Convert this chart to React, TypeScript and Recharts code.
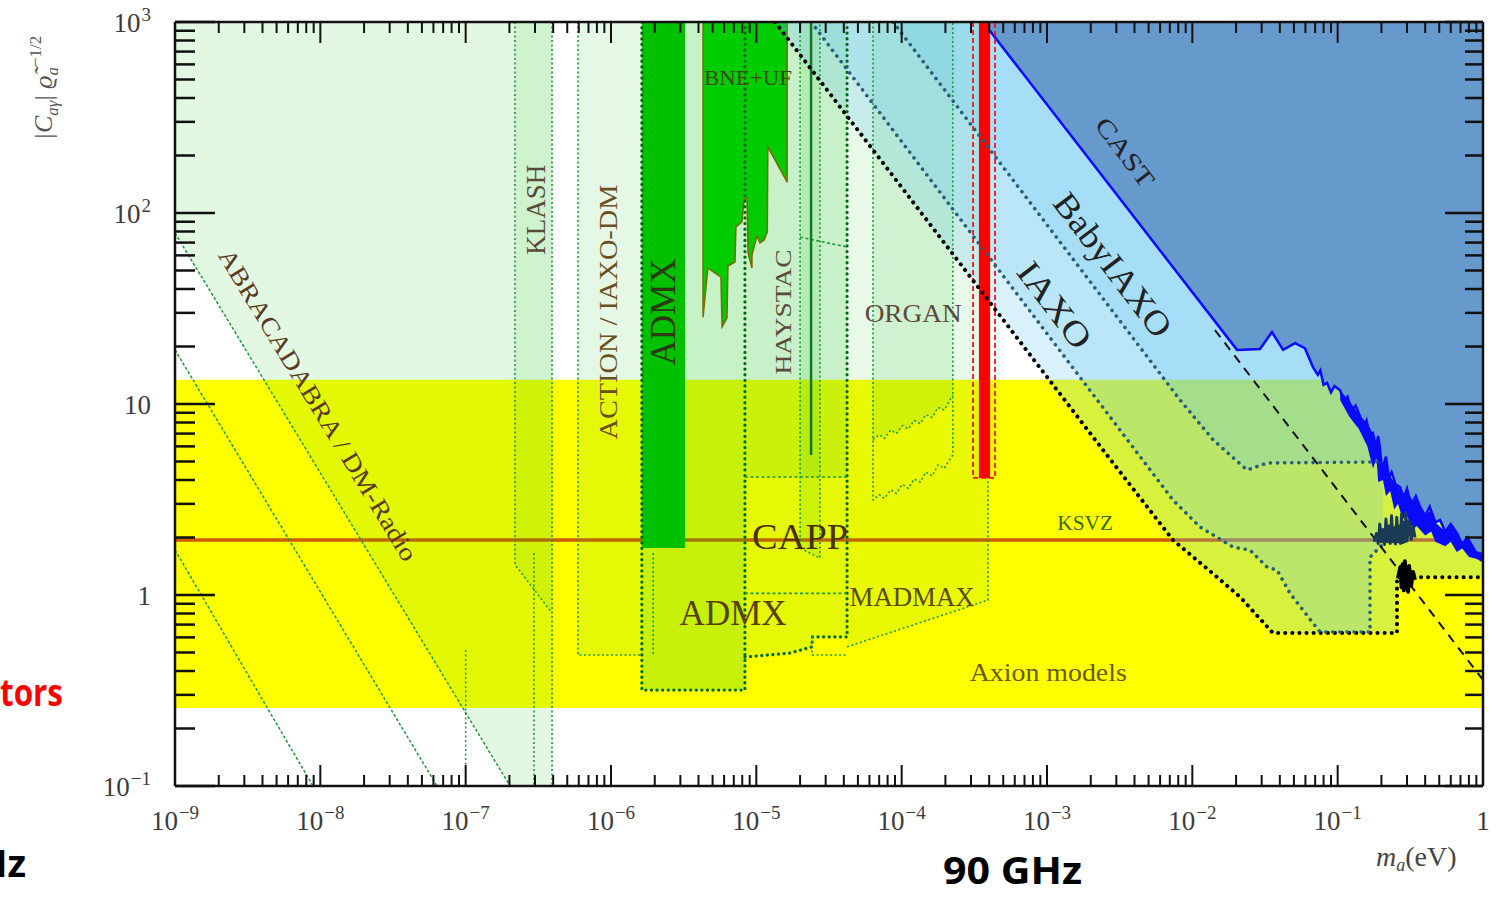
import React from "react";
import { Area, ComposedChart, Line, ReferenceDot, XAxis, YAxis } from "recharts";

type P = [number, number]; // [mass (eV), coupling]
type R = [number, number, number]; // [mass, low, high]

// axis ticks
const xDecades = [1e-9, 1e-8, 1e-7, 1e-6, 1e-5, 1e-4, 1e-3, 1e-2, 1e-1, 1];
const xDecadeLabels = ["10^−9", "10^−8", "10^−7", "10^−6", "10^−5", "10^−4", "10^−3", "10^−2", "10^−1", "1"];
const yDecades = [0.1, 1, 10, 100, 1000];
const yDecadeLabels = ["10^−1", "1", "10", "10^2", "10^3"];
const minorSteps = [2, 3, 4, 5, 6, 7, 8, 9];

// bands
const axionModels: R[] = [[1e-9, 0.256, 13.4], [1, 0.256, 13.4]];
const ksvz: R[] = [[1e-9, 1.9, 1.98], [1, 1.9, 1.98]];

// haloscope / radio regions
const abraRegion: P[] = [[1e-9, 78.5], [2.02e-7, 0.1], [3.93e-7, 0.1], [3.93e-7, 1000]];
const klashRegion: R[] = [[2.185e-7, 1.44, 1000], [3.93e-7, 0.805, 1000]];
const actionRegion: R[] = [[5.93e-7, 0.485, 1000], [1.63e-6, 0.485, 1000]];
const admxProjRegion: R[] = [[1.63e-6, 0.318, 1000], [8.35e-6, 0.318, 1000]];
const haystacLow: R[] = [[8.35e-6, 0.473, 1000], [1.71e-5, 0.497, 1000], [2.42e-5, 0.535, 1000], [2.42e-5, 0.603, 1000], [4.21e-5, 0.603, 1000]];
const haystacHigh: R[] = [[8.35e-6, 4.15, 1000], [4.21e-5, 4.15, 1000]];
const cappRegion: R[] = [[2.0e-5, 1.76, 1000], [2.74e-5, 1.56, 1000]];
const madmaxRegion: R[] = [[4.21e-5, 0.535, 1000], [3.93e-4, 0.94, 1000]];
const organUpper: P[] = [[6.35e-5, 6.5], [7.0e-5, 6.9], [7.6e-5, 6.6], [8.4e-5, 7.3], [9.2e-5, 7.0], [1.01e-4, 7.7], [1.11e-4, 7.4], [1.22e-4, 8.2], [1.34e-4, 7.9], [1.47e-4, 8.8], [1.62e-4, 8.5], [1.78e-4, 9.6], [1.96e-4, 9.3], [2.25e-4, 11.1]];
const organLower: P[] = [[6.35e-5, 3.14], [7.0e-5, 3.35], [7.6e-5, 3.2], [8.4e-5, 3.55], [9.2e-5, 3.4], [1.01e-4, 3.8], [1.11e-4, 3.62], [1.22e-4, 4.05], [1.34e-4, 3.9], [1.47e-4, 4.4], [1.62e-4, 4.2], [1.78e-4, 4.8], [1.96e-4, 4.6], [2.25e-4, 5.41]];
const admxSolid: R[] = [[1.63e-6, 1.76, 1000], [3.23e-6, 1.76, 1000]];
const bneUf: P[] = [[4.3e-6, 1000], [4.3e-6, 28.5], [4.64e-6, 51.5], [5.71e-6, 46.2], [5.81e-6, 25.3], [6.28e-6, 28.2], [6.38e-6, 52.8], [7.13e-6, 55.4], [7.24e-6, 84.5], [7.96e-6, 89.8], [8.22e-6, 117], [8.63e-6, 120], [8.77e-6, 61.8], [9.33e-6, 51.5], [9.33e-6, 60.3], [1.01e-5, 75.8], [1.06e-5, 69.7], [1.13e-5, 72.3], [1.19e-5, 79.6], [1.2e-5, 222], [1.63e-5, 145], [1.63e-5, 1000]];

// helioscopes
const iaxoBlack: P[] = [[1.344e-5, 1000], [2.43e-3, 5.74], [7.36e-3, 1.94], [1.48e-2, 1.24], [2.13e-2, 0.977], [3.59e-2, 0.632], [0.256, 0.632], [0.256, 1.24], [1, 1.24]];
const iaxoMid: P[] = [[2.38e-5, 1000], [7.36e-3, 3.14], [1.13e-2, 2.27], [1.91e-2, 1.78], [2.49e-2, 1.72], [3.27e-2, 1.4], [3.83e-2, 1.35], [4.7e-2, 1.02], [6.76e-2, 0.713], [7.57e-2, 0.64], [0.167, 0.64], [0.167, 1.58], [0.205, 1.85]];
const iaxoMidArea: P[] = [...iaxoMid, [0.215, 1000]];
const babyIaxo: P[] = [[8.72e-5, 1000], [8.22e-3, 10.5], [1.39e-2, 6.49], [2.38e-2, 4.51], [3.27e-2, 4.91], [0.187, 4.97]];
const babyIaxoArea: P[] = [...babyIaxo, [0.195, 1000]];
const cast: P[] = [[3.63e-4, 1000], [2.03e-2, 19.2], [2.92e-2, 19.4], [3.53e-2, 23.8], [4.21e-2, 19.2], [5.09e-2, 20.8], [5.95e-2, 19.6], [6.76e-2, 15.6], [7.3e-2, 14.2], [7.6e-2, 15.0], [8.0e-2, 12.6], [8.45e-2, 12.9], [9.0e-2, 11.5], [9.5e-2, 12.4], [0.104, 11.8], [0.11, 10.2], [0.117, 10.9], [0.125, 9.2], [0.133, 9.8], [0.143, 8.55], [0.15, 7.5], [0.158, 8.2], [0.166, 6.9], [0.175, 7.05], [0.183, 5.9], [0.19, 6.8], [0.195, 5.96], [0.2, 4.9], [0.205, 4.68], [0.215, 5.3], [0.225, 4.1], [0.235, 4.4], [0.25, 3.8], [0.269, 3.67], [0.285, 3.2], [0.3, 3.6], [0.32, 2.95], [0.345, 3.3], [0.369, 2.89], [0.4, 2.6], [0.43, 2.9], [0.47, 2.4], [0.506, 2.47], [0.55, 2.15], [0.6, 2.35], [0.662, 2.11], [0.72, 1.85], [0.78, 2.0], [0.853, 1.78], [0.92, 1.6], [1, 1.66]];
const castNoise: R[] = [[0.104, 10.5, 11.8], [0.12, 8.6, 10.4], [0.14, 7.4, 8.8], [0.16, 6.0, 7.9], [0.175, 4.6, 7.0], [0.185, 5.2, 6.2], [0.19, 3.9, 6.6], [0.205, 4.0, 4.7], [0.215, 3.3, 5.0], [0.23, 3.5, 4.2], [0.245, 2.8, 3.9], [0.26, 3.0, 3.7], [0.28, 2.5, 3.4], [0.3, 2.6, 3.5], [0.33, 2.2, 3.1], [0.35, 2.3, 3.2], [0.4, 2.05, 2.6], [0.44, 2.15, 2.8], [0.47, 1.9, 2.4], [0.55, 1.8, 2.15], [0.6, 1.9, 2.3], [0.66, 1.68, 2.1], [0.72, 1.75, 1.9], [0.8, 1.58, 1.95], [0.9, 1.55, 1.7], [1, 1.48, 1.66]];
const castExtrap: P[] = [[1.43e-2, 24.4], [1, 0.359]];
const navyNoise: P[] = [[0.178, 1.9], [0.185, 2.1], [0.19, 1.86], [0.195, 2.35], [0.2, 1.9], [0.205, 2.2], [0.21, 1.84], [0.215, 2.5], [0.22, 1.9], [0.225, 2.3], [0.23, 1.86], [0.235, 2.6], [0.24, 1.9], [0.245, 2.25], [0.25, 1.85], [0.255, 2.55], [0.26, 1.9], [0.265, 2.3], [0.27, 1.86], [0.275, 2.65], [0.28, 1.88], [0.285, 2.4], [0.29, 1.9], [0.295, 2.7], [0.3, 1.92], [0.31, 2.45], [0.32, 1.95], [0.33, 2.3], [0.34, 2.0]];
const blackStar: P[] = [[0.26, 1.22], [0.27, 1.4], [0.275, 1.1], [0.28, 1.45], [0.285, 1.06], [0.29, 1.5], [0.295, 1.08], [0.3, 1.38], [0.305, 1.04], [0.31, 1.42], [0.32, 1.12], [0.33, 1.32], [0.34, 1.2]];

// 90 GHz marker
const redBar: R[] = [[3.4e-4, 4.1, 1000], [4.06e-4, 4.1, 1000]];
const redOutline: P[] = [[3.1e-4, 1000], [3.1e-4, 4.1], [4.39e-4, 4.1], [4.39e-4, 1000]];

// outlines
const abra1: P[] = [[1e-9, 1.72], [8.9e-9, 0.1]];
const abra2: P[] = [[1e-9, 19.2], [6.35e-8, 0.1]];
const abra3: P[] = [[1e-9, 78.5], [2.02e-7, 0.1]];
const dmRadioVert: P[] = [[1e-7, 0.515], [1e-7, 0.1]];
const klashLeft: P[] = [[2.185e-7, 1000], [2.185e-7, 1.44], [3.93e-7, 0.805]];
const klashRight: P[] = [[3.93e-7, 1000], [3.93e-7, 0.1]];
const klashInner: P[] = [[2.95e-7, 1.66], [2.95e-7, 0.1]];
const actionEdge: P[] = [[5.93e-7, 1000], [5.93e-7, 0.485], [1.63e-6, 0.485]];
const actionInner: P[] = [[1.95e-6, 1.66], [1.95e-6, 0.485]];
const admxEdge: P[] = [[1.63e-6, 1000], [1.63e-6, 0.318], [8.35e-6, 0.318], [8.35e-6, 1000]];
const haystacEdge: P[] = [[8.35e-6, 0.473], [1.71e-5, 0.497], [2.42e-5, 0.535], [2.42e-5, 0.603], [4.21e-5, 0.603], [4.21e-5, 1000]];
const haystacBox: P[] = [[2.42e-5, 0.603], [2.42e-5, 0.485], [4.21e-5, 0.485]];
const haystacTop: P[] = [[8.35e-6, 4.15], [4.21e-5, 4.15]];
const haystacMid: P[] = [[8.35e-6, 1.02], [4.21e-5, 1.02]];
const haystacDiag: P[] = [[2.0e-5, 74.8], [4.21e-5, 66.4]];
const cappEdge: P[] = [[2.0e-5, 1000], [2.0e-5, 1.76], [2.74e-5, 1.56], [2.74e-5, 1000]];
const cappSolid: P[] = [[2.38e-5, 1000], [2.38e-5, 5.41]];
const organOuter: P[] = [[6.35e-5, 1000], ...organLower, [2.25e-4, 1000]];
const madmaxEdge: P[] = [[4.21e-5, 0.535], [3.93e-4, 0.94], [3.93e-4, 4.1]];

const pts = (arr: P[]) => arr.map(([m, c]) => ({ m, c }));
const band = (arr: R[]) => arr.map(([m, lo, hi]) => ({ m, c: [lo, hi] }));

const xTicks = [...xDecades, ...xDecades.slice(0, -1).flatMap((d) => minorSteps.map((s) => d * s))];
const yTicks = [...yDecades, ...yDecades.slice(0, -1).flatMap((d) => minorSteps.map((s) => d * s))];

const serif = "'Liberation Serif', 'DejaVu Serif', serif";
const sans = "'Open Sans', 'Noto Sans', sans-serif";
const INK = "#111";
const GREEN = "#28c828";
const BLUE = "#64c8f0";

function TickText({ x, y, label, anchor }: { x: number; y: number; label: string; anchor: string }) {
  const [base, exp] = label.split("^");
  return (
    <text x={x} y={y} textAnchor={anchor} fontSize={27} fill="#3c3c3c" fontFamily={serif}>
      {base}
      {exp && (
        <tspan dy={-11} dx={1} fontSize={19}>
          {exp}
        </tspan>
      )}
    </text>
  );
}

const XTickBottom = (props: any) => {
  const { x, y, payload } = props;
  const i = xDecades.indexOf(payload.value);
  return (
    <g>
      <line x1={x} x2={x} y1={y} y2={y - (i >= 0 ? 21 : 11)} stroke={INK} strokeWidth={2} />
      {i >= 0 && <TickText x={x} y={y + 44} label={xDecadeLabels[i]} anchor="middle" />}
    </g>
  );
};

const XTickTop = (props: any) => {
  const { x, y, payload } = props;
  const major = xDecades.includes(payload.value);
  return <line x1={x} x2={x} y1={y} y2={y + (major ? 21 : 11)} stroke={INK} strokeWidth={2} />;
};

const YTickLeft = (props: any) => {
  const { x, y, payload } = props;
  const i = yDecades.indexOf(payload.value);
  return (
    <g>
      <line x1={x} x2={x + (i >= 0 ? 40 : 20)} y1={y} y2={y} stroke={INK} strokeWidth={2.5} />
      {i >= 0 && <TickText x={x - 24} y={y + 10} label={yDecadeLabels[i]} anchor="end" />}
    </g>
  );
};

const YTickRight = (props: any) => {
  const { x, y, payload } = props;
  const major = yDecades.includes(payload.value);
  return <line x1={x} x2={x - (major ? 38 : 18)} y1={y} y2={y} stroke={INK} strokeWidth={2.5} />;
};

const fillArea = (key: string, data: any[], fill: string, opacity: number, extra: any = {}) => (
  <Area
    key={key}
    data={data}
    dataKey="c"
    type="linear"
    fill={fill}
    fillOpacity={opacity}
    stroke="none"
    baseValue={1000}
    dot={false}
    activeDot={false}
    isAnimationActive={false}
    {...extra}
  />
);

const edge = (key: string, data: P[], stroke: string, width: number, dash: string, round = false) => (
  <Line
    key={key}
    data={pts(data)}
    dataKey="c"
    type="linear"
    stroke={stroke}
    strokeWidth={width}
    strokeDasharray={dash}
    strokeLinecap={round ? "round" : "butt"}
    strokeLinejoin="round"
    dot={false}
    activeDot={false}
    isAnimationActive={false}
  />
);

const tag = (text: string, m: number, c: number, size: number, len: number, angle: number, color: string) => (
  <ReferenceDot
    key={text + m}
    x={m}
    y={c}
    r={0}
    ifOverflow="visible"
    shape={(p: any) => (
      <text
        x={p.cx}
        y={p.cy}
        transform={`rotate(${angle} ${p.cx} ${p.cy})`}
        textAnchor="middle"
        dominantBaseline="central"
        fontSize={size}
        fill={color}
        fontFamily={serif}
        textLength={len}
        lengthAdjust="spacingAndGlyphs"
      >
        {text}
      </text>
    )}
  />
);

const thinGreen = "#1f9a3a";
const darkGreen = "#006a10";
const dotBlue = "#2a5f7a";

export default function App() {
  return (
    <div style={{ position: "absolute", left: 0, top: 0, width: 1499, height: 897, background: "#fff", overflow: "hidden" }}>
      <ComposedChart width={1499} height={897} margin={{ top: 0, right: 0, bottom: 0, left: 0 }}>
        {fillArea("axion", band(axionModels), "#ffff00", 1)}
        {fillArea("ksvz", band(ksvz), "#d05a00", 1)}

        {fillArea("abra", pts(abraRegion), GREEN, 0.13)}
        {fillArea("klash", band(klashRegion), GREEN, 0.1)}
        {fillArea("action", band(actionRegion), GREEN, 0.12)}
        {fillArea("admxProj", band(admxProjRegion), GREEN, 0.26)}
        {fillArea("hayLow", band(haystacLow), GREEN, 0.12)}
        {fillArea("hayHigh", band(haystacHigh), GREEN, 0.15)}
        {fillArea("capp", band(cappRegion), GREEN, 0.12)}
        {fillArea("madmax", band(madmaxRegion), GREEN, 0.1)}
        {fillArea("organ", pts(organUpper), GREEN, 0.12)}

        {fillArea("admxSolid", band(admxSolid), "#00c000", 1)}
        {fillArea("bne", pts(bneUf), "#00cc00", 1, { stroke: "#7a6a00", strokeWidth: 1.5 })}

        {fillArea("iaxoBlack", pts(iaxoBlack), BLUE, 0.25)}
        {fillArea("iaxoMid", pts(iaxoMidArea), BLUE, 0.25)}
        {fillArea("baby", pts(babyIaxoArea), BLUE, 0.25)}
        {fillArea("cast", pts(cast), "#6699cc", 1, { stroke: "#0a0aff", strokeWidth: 2.5 })}
        {fillArea("castNoise", band(castNoise), "#0a0aff", 1)}
        {fillArea("red", band(redBar), "#ff0000", 1)}

        {edge("abra1", abra1, thinGreen, 1.5, "3 2")}
        {edge("abra2", abra2, thinGreen, 1.5, "3 2")}
        {edge("abra3", abra3, thinGreen, 1.5, "3 2")}
        {edge("dmv", dmRadioVert, thinGreen, 1.5, "2 2.5")}
        {edge("klashL", klashLeft, thinGreen, 1.6, "2 2.5")}
        {edge("klashR", klashRight, thinGreen, 1.6, "2 2.5")}
        {edge("klashI", klashInner, thinGreen, 1.6, "2 2.5")}
        {edge("actionE", actionEdge, thinGreen, 1.6, "2 2.5")}
        {edge("actionI", actionInner, thinGreen, 1.6, "2 2.5")}
        {edge("admxE", admxEdge, darkGreen, 3.2, "0.1 5.5", true)}
        {edge("hayE", haystacEdge, darkGreen, 3.2, "0.1 5.5", true)}
        {edge("hayB", haystacBox, thinGreen, 1.6, "2 2.5")}
        {edge("hayT", haystacTop, thinGreen, 1.6, "3 2.5")}
        {edge("hayM", haystacMid, thinGreen, 1.6, "3 2.5")}
        {edge("hayD", haystacDiag, thinGreen, 1.6, "3 2.5")}
        {edge("cappE", cappEdge, thinGreen, 1.6, "2 2.5")}
        {edge("cappS", cappSolid, "#107a20", 2.5, "none")}
        {edge("organO", organOuter, thinGreen, 1.6, "2 2.5")}
        {edge("organU", organUpper, thinGreen, 1.6, "2 2.5")}
        {edge("madmaxE", madmaxEdge, thinGreen, 1.6, "2 2.5")}
        {edge("redO", redOutline, "#ff1010", 1.8, "5 3")}

        {edge("iaxoB", iaxoBlack, "#000", 4, "0.1 7", true)}
        {edge("iaxoM", iaxoMid, dotBlue, 3.6, "0.1 7", true)}
        {edge("babyL", babyIaxo, dotBlue, 3.6, "0.1 7", true)}
        {edge("castX", castExtrap, INK, 2, "9 7")}
        {edge("navy", navyNoise, "#1a3a55", 3, "none")}
        {edge("star", blackStar, "#000", 4, "none")}

        {tag("ABRACADABRA / DM-Radio", 9.64e-9, 9.89, 25, 360, 58.8, "#5a3a22")}
        {tag("KLASH", 3.05e-7, 104, 27, 90, -90, "#5a4a3a")}
        {tag("ACTION / IAXO-DM", 9.68e-7, 30.3, 25, 255, -90, "#6a5020")}
        {tag("ADMX", 2.28e-6, 30.3, 36, 107, -90, "#2a3a10")}
        {tag("BNE+UF", 8.77e-6, 509, 21, 88, 0, "#3a4a10")}
        {tag("HAYSTAC", 1.53e-5, 30.3, 24, 125, -90, "#5a4a40")}
        {tag("ORGAN", 1.2e-4, 29.9, 25, 97, 0, "#5a4a40")}
        {tag("CAST", 3.44e-3, 208, 25, 81, 52.7, "#222")}
        {tag("BabyIAXO", 2.84e-3, 53.5, 34, 172, 52.7, "#222")}
        {tag("IAXO", 1.13e-3, 33.0, 34, 100, 52.7, "#222")}
        {tag("CAPP", 2.0e-5, 1.99, 35, 96, 0, "#4a3000")}
        {tag("ADMX", 6.92e-6, 0.796, 35, 107, 0, "#5a4000")}
        {tag("MADMAX", 1.18e-4, 0.977, 27, 125, 0, "#5a4a00")}
        {tag("KSVZ", 1.83e-3, 2.38, 20, 56, 0, "#3a6a00")}
        {tag("Axion models", 1.02e-3, 0.395, 25, 157, 0, "#6a5a00")}

        <XAxis
          type="number"
          dataKey="m"
          scale="log"
          domain={[1e-9, 1]}
          allowDataOverflow
          ticks={xTicks}
          interval={0}
          tickSize={0}
          tickMargin={0}
          tickLine={false}
          tick={XTickBottom}
          axisLine={{ stroke: INK, strokeWidth: 2.5 }}
          height={111}
        />
        <XAxis
          xAxisId="top"
          orientation="top"
          type="number"
          dataKey="m"
          scale="log"
          domain={[1e-9, 1]}
          allowDataOverflow
          ticks={xTicks}
          interval={0}
          tickSize={0}
          tickMargin={0}
          tickLine={false}
          tick={XTickTop}
          axisLine={{ stroke: INK, strokeWidth: 2.5 }}
          height={22}
        />
        <YAxis
          type="number"
          scale="log"
          domain={[0.1, 1000]}
          allowDataOverflow
          ticks={yTicks}
          interval={0}
          tickSize={0}
          tickMargin={0}
          tickLine={false}
          tick={YTickLeft}
          axisLine={{ stroke: INK, strokeWidth: 2.5 }}
          width={175}
        />
        <YAxis
          yAxisId="right"
          orientation="right"
          type="number"
          scale="log"
          domain={[0.1, 1000]}
          allowDataOverflow
          ticks={yTicks}
          interval={0}
          tickSize={0}
          tickMargin={0}
          tickLine={false}
          tick={YTickRight}
          axisLine={{ stroke: INK, strokeWidth: 2.5 }}
          width={16}
        />
      </ComposedChart>

      <svg width={1499} height={897} style={{ position: "absolute", left: 0, top: 0, pointerEvents: "none" }}>
        <text x={52} y={88} transform="rotate(-90 52 88)" textAnchor="middle" fontSize={26} fill="#555" fontFamily={serif}>
          <tspan fontStyle="italic">|C</tspan>
          <tspan fontSize={17} dy={6} fontStyle="italic">aγ</tspan>
          <tspan dy={-6}>| </tspan>
          <tspan fontStyle="italic">ϱ̃</tspan>
          <tspan fontSize={17} dy={6} fontStyle="italic">a</tspan>
          <tspan fontSize={17} dy={-17}>−1/2</tspan>
        </text>
        <text x={1376} y={866} fontSize={28} fill="#444" fontFamily={serif}>
          <tspan fontStyle="italic">m</tspan>
          <tspan fontSize={18} dy={5} fontStyle="italic">a</tspan>
          <tspan dy={-5}>(eV)</tspan>
        </text>
        <text x={0} y={706} fontSize={38} fontWeight={700} fill="#ff0000" fontFamily={sans} textLength={63} lengthAdjust="spacingAndGlyphs">
          tors
        </text>
        <text x={26} y={877} textAnchor="end" fontSize={38} fontWeight={700} fill="#000" fontFamily={sans}>
          Hz
        </text>
        <text x={943} y={884} fontSize={37} fontWeight={700} fill="#000" fontFamily={sans} textLength={139} lengthAdjust="spacingAndGlyphs">
          90 GHz
        </text>
      </svg>
    </div>
  );
}
